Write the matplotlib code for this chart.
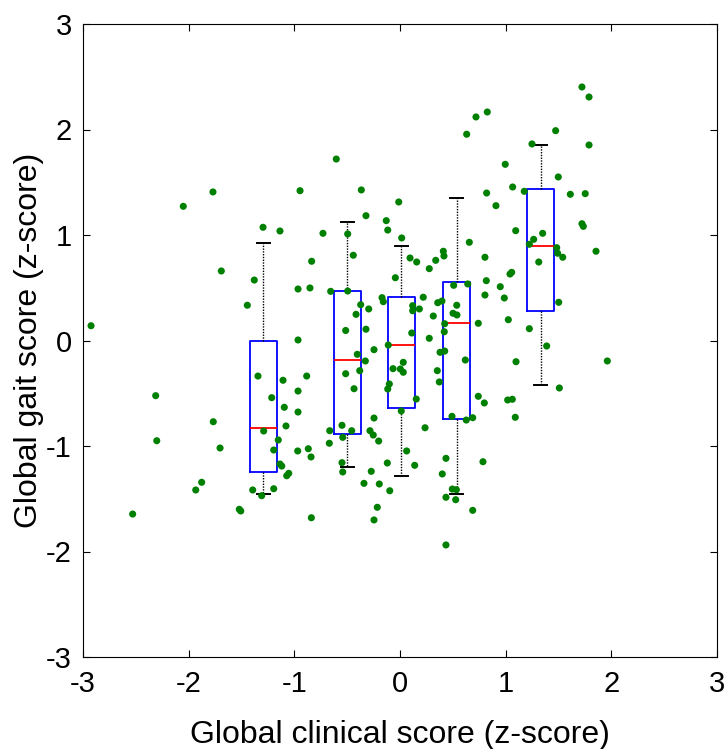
import matplotlib
matplotlib.use("Agg")
import matplotlib.pyplot as plt

plt.rcParams['font.family'] = ['Liberation Sans', 'DejaVu Sans']
plt.rcParams['axes.unicode_minus'] = False

# scatter data: global clinical score (x) vs global gait score (y)
clinical = [
    -2.051, -1.770, -0.946, -1.296, -1.136, -1.691, -1.379,
    -0.965, -1.445, -2.924, -0.965, -1.344, -1.107, -0.965, -1.214, -2.312,
    -1.095, -0.965, -1.767, -1.079, -1.290, -1.152, -2.302, -1.703, -1.195,
    -0.968, -1.136, -1.119, -1.053, -1.072, -1.877, -1.933, -1.394, -1.195,
    -1.309, -1.521, -1.507, -2.530,
    0.631, -0.603, -0.366, -0.012, -0.322, -0.130, -0.116, -0.729, -0.495,
    0.016, 0.656, 0.410, 0.416, -0.442, 0.095, 0.158, 0.338, -0.836, 0.277,
    -0.044, -0.852, -0.656, -0.495, 0.508, 0.641, 0.220, -0.170, -0.158,
    0.357, 0.397, -0.372, -0.296, 0.537, 0.120, 0.120, 0.183, -0.416, 0.502,
    0.539, 0.315, 0.423, 0.741, -0.514, -0.322,
    0.111, 0.277, 0.419, -0.246, -0.111, 0.379, 0.423, -0.404, -0.328,
    -0.883, -0.514, -0.381, -0.066, 0.003, 0.031, 0.031, 0.618, 0.353,
    0.372, -0.101, -0.116, -0.435, 0.154, 0.741, 0.012, 0.492, 0.688, 0.627,
    -0.246, 0.237, -0.549, -0.457, -0.665, -0.284, -0.253, -0.202, -0.542,
    -0.669, -0.868, -0.842, 0.063, 0.435, -0.549, -0.542, -0.120, 0.139,
    -0.272, 0.400, -0.341, -0.196, -0.097, 0.495, 0.533, 0.435, 0.527, 0.688,
    -0.215, -0.246, -0.839, 0.435,
    1.722, 1.789, 0.719, 0.826, 1.473, 1.249, 1.789, 0.996, 1.498, 1.066,
    1.176, 0.820, 1.612, 1.753, 0.908, 1.095, 1.350, 1.265, 1.722, 1.735,
    1.224, 1.483, 1.492, 1.540, 1.855, 1.313, 0.804, 1.057, 1.041, 0.817,
    0.949,
    0.804, 0.987, 1.502, 1.025, 1.224, 1.388, 1.098, 1.962, 1.508, 0.798,
    1.019, 1.063, 1.091, 0.785,
]
gait = [
    1.272, 1.408, 1.420, 1.073, 1.038, 0.659, 0.573,
    0.488, 0.334, 0.140, 0.005, -0.337, -0.377, -0.479, -0.542, -0.523,
    -0.633, -0.678, -0.770, -0.810, -0.858, -0.943, -0.950, -1.019, -1.038,
    -1.047, -1.171, -1.190, -1.259, -1.282, -1.344, -1.417, -1.417, -1.405,
    -1.471, -1.600, -1.616, -1.645,
    1.955, 1.720, 1.427, 1.313, 1.183, 1.136, 1.047, 1.016, 1.010,
    0.972, 0.931, 0.846, 0.801, 0.808, 0.782, 0.744, 0.760, 0.751, 0.681,
    0.595, 0.498, 0.466, 0.469, 0.523, 0.536, 0.410, 0.406, 0.368,
    0.358, 0.374, 0.339, 0.299, 0.334, 0.330, 0.282, 0.299, 0.248, 0.258,
    0.242, 0.232, 0.159, 0.163, 0.095, 0.107,
    0.071, 0.021, 0.083, -0.087, -0.043, -0.112, -0.100, -0.131, -0.194,
    -0.337, -0.315, -0.286, -0.267, -0.270, -0.207, -0.301, -0.185, -0.286,
    -0.393, -0.412, -0.460, -0.457, -0.555, -0.529, -0.668, -0.719, -0.732, -0.754,
    -0.735, -0.827, -0.804, -0.855, -0.855, -0.855, -0.896, -0.953, -0.918,
    -0.974, -1.026, -1.104, -1.047, -1.117, -1.158, -1.246, -1.161, -1.183,
    -1.240, -1.265, -1.354, -1.360, -1.424, -1.408, -1.414, -1.486, -1.509, -1.610,
    -1.581, -1.701, -1.680, -1.938,
    2.403, 2.308, 2.119, 2.166, 1.989, 1.863, 1.853, 1.670, 1.550, 1.455,
    1.414, 1.398, 1.386, 1.392, 1.278, 1.041, 1.016, 0.959, 1.107, 1.082,
    0.912, 0.880, 0.827, 0.789, 0.846, 0.744, 0.789, 0.646, 0.630, 0.567,
    0.510,
    0.431, 0.403, 0.362, 0.197, 0.112, -0.052, -0.201, -0.194, -0.450, -0.592,
    -0.564, -0.557, -0.728, -1.149,
]

# box plot summary per clinical-score group
box_pos = [-1.292, -0.497, 0.012, 0.536, 1.331]
whisk_lo = [-1.455, -1.199, -1.284, -1.455, -0.422]
q1 = [-1.246, -0.886, -0.640, -0.744, 0.280]
med = [-0.829, -0.185, -0.043, 0.166, 0.896]
q3 = [-0.005, 0.469, 0.412, 0.555, 1.436]
whisk_hi = [0.924, 1.123, 0.896, 1.351, 1.853]

stats = []
for i in range(len(box_pos)):
    stats.append({'whislo': whisk_lo[i], 'q1': q1[i], 'med': med[i],
                  'q3': q3[i], 'whishi': whisk_hi[i], 'fliers': []})

fig = plt.figure(figsize=(7.27, 7.49), dpi=100)
ax = fig.add_axes([83 / 727, 1 - 657 / 749, 634 / 727, 633 / 749])

ax.bxp(stats, positions=box_pos, widths=0.258, capwidths=0.125,
       showfliers=False, manage_ticks=False,
       boxprops=dict(color='#0000ff', linewidth=1.3),
       medianprops=dict(color='#ff0000', linewidth=1.3),
       whiskerprops=dict(color='black', linewidth=1.0, linestyle=(0, (1, 1))),
       capprops=dict(color='black', linewidth=1.4))

ax.scatter(clinical, gait, s=26, color='#008000', edgecolors='none', zorder=3)

ax.set_xlim(-3, 3)
ax.set_ylim(-3, 3)
ax.set_xticks(range(-3, 4))
ax.set_yticks(range(-3, 4))
ax.tick_params(direction='in', length=5, width=0.8, labelsize=21,
               top=True, right=True, color='black')
ax.tick_params(axis='y', pad=8)
ax.tick_params(axis='x', pad=9)
for s in ax.spines.values():
    s.set_linewidth(0.8)
    s.set_color('black')

ax.set_xlabel('Global clinical score (z-score)', fontsize=23, va='baseline')
ax.xaxis.set_label_coords(0.5, -86 / 633)
ax.set_ylabel('Global gait score (z-score)', fontsize=23, va='baseline')
ax.yaxis.set_label_coords(-46 / 634, 0.5)

fig.savefig('out.png', dpi=100)
